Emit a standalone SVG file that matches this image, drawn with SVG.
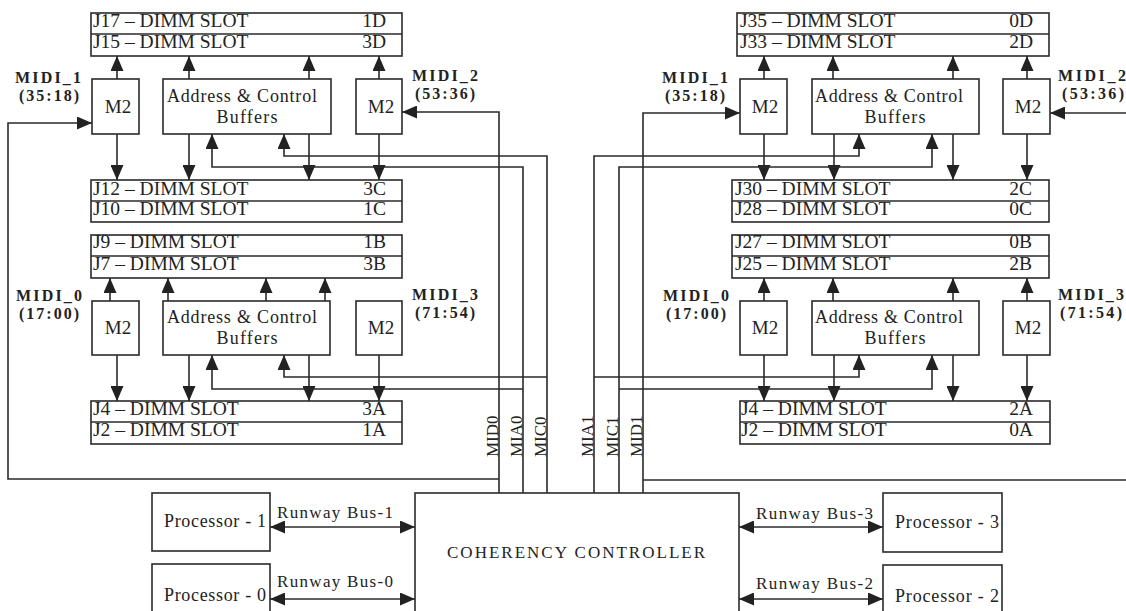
<svg xmlns="http://www.w3.org/2000/svg" width="1126" height="611" viewBox="0 0 1126 611">
<defs>
<marker id="ah" markerUnits="userSpaceOnUse" markerWidth="15" markerHeight="13" refX="15" refY="6.5" orient="auto-start-reverse" viewBox="0 0 15 13">
<path d="M0,0 L15,6.5 L0,13 z" fill="#222"/>
</marker>
<style>
.bx{fill:#fff;stroke:#2a2a2a;stroke-width:1.6}
.ln{fill:none;stroke:#2a2a2a;stroke-width:1.6}
.ar{fill:none;stroke:#2a2a2a;stroke-width:1.6;marker-end:url(#ah)}
.ar2{fill:none;stroke:#2a2a2a;stroke-width:1.6;marker-start:url(#ah);marker-end:url(#ah)}
.t{font-family:"Liberation Serif","Times New Roman",serif;fill:#222}
.sl{font-size:19.5px}
.m2{font-size:19px;text-anchor:middle}
.ac{font-size:18px;text-anchor:middle}
.lb{font-size:16px;font-weight:bold;text-anchor:middle}
.rt{font-size:17px}
.pr{font-size:18px}
</style>
</defs>
<rect width="1126" height="611" fill="#fff"/>

<!-- LEFT CLUSTER -->
<g id="dimm-left-D">
<rect class="bx" x="91" y="13" width="311" height="43"/>
<line class="ln" x1="91" y1="34" x2="402" y2="34"/>
<text class="t sl" x="93" y="27">J17 – DIMM SLOT</text>
<text class="t sl" x="386" y="27" text-anchor="end">1D</text>
<text class="t sl" x="93" y="48">J15 – DIMM SLOT</text>
<text class="t sl" x="386" y="48" text-anchor="end">3D</text>
</g>
<g id="m2-left-1">
<rect class="bx" x="92" y="79" width="47" height="55"/>
<text class="t m2" x="118" y="113">M2</text>
</g>
<g id="acb-left-top">
<rect class="bx" x="163" y="79" width="168" height="55"/>
<text class="t ac" x="242" y="102" textLength="150" lengthAdjust="spacing">Address &amp; Control</text>
<text class="t ac" x="247" y="123" textLength="61" lengthAdjust="spacing">Buffers</text>
</g>
<g id="m2-left-2">
<rect class="bx" x="356" y="79" width="46" height="55"/>
<text class="t m2" x="381" y="113">M2</text>
</g>
<g id="dimm-left-C">
<rect class="bx" x="91" y="180" width="311" height="42"/>
<line class="ln" x1="91" y1="201" x2="402" y2="201"/>
<text class="t sl" x="93" y="195">J12 – DIMM SLOT</text>
<text class="t sl" x="386" y="195" text-anchor="end">3C</text>
<text class="t sl" x="93" y="215">J10 – DIMM SLOT</text>
<text class="t sl" x="386" y="215" text-anchor="end">1C</text>
</g>
<g id="dimm-left-B">
<rect class="bx" x="91" y="235" width="311" height="43"/>
<line class="ln" x1="91" y1="256" x2="402" y2="256"/>
<text class="t sl" x="93" y="248">J9 – DIMM SLOT</text>
<text class="t sl" x="386" y="248" text-anchor="end">1B</text>
<text class="t sl" x="93" y="270">J7 – DIMM SLOT</text>
<text class="t sl" x="386" y="270" text-anchor="end">3B</text>
</g>
<g id="m2-left-0">
<rect class="bx" x="92" y="301" width="47" height="54"/>
<text class="t m2" x="118" y="334">M2</text>
</g>
<g id="acb-left-bottom">
<rect class="bx" x="163" y="301" width="167" height="54"/>
<text class="t ac" x="242" y="323" textLength="150" lengthAdjust="spacing">Address &amp; Control</text>
<text class="t ac" x="247" y="344" textLength="61" lengthAdjust="spacing">Buffers</text>
</g>
<g id="m2-left-3">
<rect class="bx" x="356" y="301" width="46" height="54"/>
<text class="t m2" x="381" y="334">M2</text>
</g>
<g id="dimm-left-A">
<rect class="bx" x="91" y="401" width="311" height="43"/>
<line class="ln" x1="91" y1="422" x2="402" y2="422"/>
<text class="t sl" x="93" y="415">J4 – DIMM SLOT</text>
<text class="t sl" x="386" y="415" text-anchor="end">3A</text>
<text class="t sl" x="93" y="436">J2 – DIMM SLOT</text>
<text class="t sl" x="386" y="436" text-anchor="end">1A</text>
</g>
<g id="labels-left">
<text class="t lb" x="48" y="83" textLength="66" lengthAdjust="spacing">MIDI_1</text>
<text class="t lb" x="49" y="101" textLength="60" lengthAdjust="spacing">(35:18)</text>
<text class="t lb" x="445" y="81" textLength="66" lengthAdjust="spacing">MIDI_2</text>
<text class="t lb" x="445" y="99" textLength="60" lengthAdjust="spacing">(53:36)</text>
<text class="t lb" x="49" y="301" textLength="66" lengthAdjust="spacing">MIDI_0</text>
<text class="t lb" x="49" y="319" textLength="60" lengthAdjust="spacing">(17:00)</text>
<text class="t lb" x="445" y="300" textLength="66" lengthAdjust="spacing">MIDI_3</text>
<text class="t lb" x="445" y="318" textLength="60" lengthAdjust="spacing">(71:54)</text>
</g>

<!-- RIGHT CLUSTER -->
<g id="dimm-right-D">
<rect class="bx" x="737" y="13" width="312" height="43"/>
<line class="ln" x1="737" y1="34" x2="1049" y2="34"/>
<text class="t sl" x="740" y="27">J35 – DIMM SLOT</text>
<text class="t sl" x="1033" y="27" text-anchor="end">0D</text>
<text class="t sl" x="740" y="48">J33 – DIMM SLOT</text>
<text class="t sl" x="1033" y="48" text-anchor="end">2D</text>
</g>
<g id="m2-right-1">
<rect class="bx" x="740" y="79" width="47" height="55"/>
<text class="t m2" x="765" y="113">M2</text>
</g>
<g id="acb-right-top">
<rect class="bx" x="812" y="79" width="167" height="55"/>
<text class="t ac" x="889" y="102" textLength="148" lengthAdjust="spacing">Address &amp; Control</text>
<text class="t ac" x="895" y="123" textLength="61" lengthAdjust="spacing">Buffers</text>
</g>
<g id="m2-right-2">
<rect class="bx" x="1003" y="79" width="47" height="55"/>
<text class="t m2" x="1028" y="113">M2</text>
</g>
<g id="dimm-right-C">
<rect class="bx" x="732" y="180" width="317" height="42"/>
<line class="ln" x1="732" y1="201" x2="1049" y2="201"/>
<text class="t sl" x="735" y="195">J30 – DIMM SLOT</text>
<text class="t sl" x="1032" y="195" text-anchor="end">2C</text>
<text class="t sl" x="735" y="215">J28 – DIMM SLOT</text>
<text class="t sl" x="1032" y="215" text-anchor="end">0C</text>
</g>
<g id="dimm-right-B">
<rect class="bx" x="732" y="235" width="317" height="43"/>
<line class="ln" x1="732" y1="256" x2="1049" y2="256"/>
<text class="t sl" x="735" y="248">J27 – DIMM SLOT</text>
<text class="t sl" x="1032" y="248" text-anchor="end">0B</text>
<text class="t sl" x="735" y="270">J25 – DIMM SLOT</text>
<text class="t sl" x="1032" y="270" text-anchor="end">2B</text>
</g>
<g id="m2-right-0">
<rect class="bx" x="740" y="301" width="47" height="54"/>
<text class="t m2" x="765" y="334">M2</text>
</g>
<g id="acb-right-bottom">
<rect class="bx" x="812" y="301" width="167" height="54"/>
<text class="t ac" x="889" y="323" textLength="148" lengthAdjust="spacing">Address &amp; Control</text>
<text class="t ac" x="895" y="344" textLength="61" lengthAdjust="spacing">Buffers</text>
</g>
<g id="m2-right-3">
<rect class="bx" x="1003" y="301" width="47" height="54"/>
<text class="t m2" x="1028" y="334">M2</text>
</g>
<g id="dimm-right-A">
<rect class="bx" x="740" y="401" width="310" height="43"/>
<line class="ln" x1="740" y1="422" x2="1050" y2="422"/>
<text class="t sl" x="741" y="415">J4 – DIMM SLOT</text>
<text class="t sl" x="1033" y="415" text-anchor="end">2A</text>
<text class="t sl" x="741" y="436">J2 – DIMM SLOT</text>
<text class="t sl" x="1033" y="436" text-anchor="end">0A</text>
</g>
<g id="labels-right">
<text class="t lb" x="695" y="83" textLength="66" lengthAdjust="spacing">MIDI_1</text>
<text class="t lb" x="695" y="101" textLength="60" lengthAdjust="spacing">(35:18)</text>
<text class="t lb" x="1092" y="81" textLength="68" lengthAdjust="spacing">MIDI_2</text>
<text class="t lb" x="1093" y="99" textLength="62" lengthAdjust="spacing">(53:36)</text>
<text class="t lb" x="696" y="301" textLength="66" lengthAdjust="spacing">MIDI_0</text>
<text class="t lb" x="696" y="319" textLength="60" lengthAdjust="spacing">(17:00)</text>
<text class="t lb" x="1091" y="300" textLength="66" lengthAdjust="spacing">MIDI_3</text>
<text class="t lb" x="1091" y="318" textLength="62" lengthAdjust="spacing">(71:54)</text>
</g>

<!-- BOTTOM -->
<g id="controller">
<rect class="bx" x="415" y="493" width="324" height="130"/>
<text class="t" x="447" y="558" font-size="17" textLength="258" lengthAdjust="spacing">COHERENCY CONTROLLER</text>
</g>
<g id="proc-1">
<rect class="bx" x="152" y="493" width="118" height="58"/>
<text class="t pr" x="164" y="527" textLength="102" lengthAdjust="spacing">Processor - 1</text>
</g>
<g id="proc-0">
<rect class="bx" x="152" y="564" width="118" height="60"/>
<text class="t pr" x="164" y="601" textLength="102" lengthAdjust="spacing">Processor - 0</text>
</g>
<g id="proc-3">
<rect class="bx" x="883" y="493" width="119" height="59"/>
<text class="t pr" x="895" y="528" textLength="104" lengthAdjust="spacing">Processor - 3</text>
</g>
<g id="proc-2">
<rect class="bx" x="883" y="565" width="119" height="60"/>
<text class="t pr" x="895" y="602" textLength="104" lengthAdjust="spacing">Processor - 2</text>
</g>

<g id="connectors">
<!-- left top cluster arrows -->
<path class="ar" d="M117,79 V56"/>
<path class="ar" d="M189,79 V56"/>
<path class="ar" d="M309,79 V56"/>
<path class="ar" d="M379,79 V56"/>
<path class="ar" d="M117,134 V180"/>
<path class="ar" d="M189,134 V180"/>
<path class="ar" d="M309,134 V180"/>
<path class="ar" d="M379,134 V180"/>
<path class="ar" d="M547,493 V156 H284 V134"/>
<path class="ar" d="M523,493 V167 H212 V134"/>
<path class="ar" d="M499,479 H8 V123 H92"/>
<path class="ar" d="M499,493 V112 H402"/>
<!-- left bottom cluster -->
<path class="ar" d="M110,301 V278"/>
<path class="ar" d="M168,301 V278"/>
<path class="ar" d="M266,301 V278"/>
<path class="ar" d="M325,301 V278"/>
<path class="ar" d="M117,355 V401"/>
<path class="ar" d="M189,355 V401"/>
<path class="ar" d="M309,355 V401"/>
<path class="ar" d="M379,355 V401"/>
<path class="ar" d="M547,377 H284 V355"/>
<path class="ar" d="M523,389 H212 V355"/>
<!-- right top cluster -->
<path class="ar" d="M764,79 V56"/>
<path class="ar" d="M833,79 V56"/>
<path class="ar" d="M953,79 V56"/>
<path class="ar" d="M1027,79 V56"/>
<path class="ar" d="M764,134 V180"/>
<path class="ar" d="M834,134 V180"/>
<path class="ar" d="M953,134 V180"/>
<path class="ar" d="M1027,134 V180"/>
<path class="ar" d="M594,493 V156 H859 V134"/>
<path class="ar" d="M619,493 V167 H932 V134"/>
<path class="ar" d="M643,493 V113 H740"/>
<path class="ln" d="M643,480 H1126"/>
<path class="ar" d="M1126,113 H1050"/>
<!-- right bottom cluster -->
<path class="ar" d="M764,301 V278"/>
<path class="ar" d="M833,301 V278"/>
<path class="ar" d="M953,301 V278"/>
<path class="ar" d="M1027,301 V278"/>
<path class="ar" d="M764,355 V401"/>
<path class="ar" d="M834,355 V401"/>
<path class="ar" d="M953,355 V401"/>
<path class="ar" d="M1027,355 V401"/>
<path class="ar" d="M594,377 H859 V355"/>
<path class="ar" d="M619,389 H932 V355"/>
<!-- runway buses -->
<path class="ar2" d="M270,527 H415"/>
<path class="ar2" d="M270,599 H415"/>
<path class="ar2" d="M739,527 H883"/>
<path class="ar2" d="M739,599 H883"/>
<text class="t rt" x="277" y="518" textLength="116" lengthAdjust="spacing">Runway Bus-1</text>
<text class="t rt" x="277" y="587" textLength="116" lengthAdjust="spacing">Runway Bus-0</text>
<text class="t rt" x="756" y="519" textLength="117" lengthAdjust="spacing">Runway Bus-3</text>
<text class="t rt" x="756" y="589" textLength="117" lengthAdjust="spacing">Runway Bus-2</text>
<!-- bus labels -->
<text class="t rt" transform="translate(497.5,457) rotate(-90)">MID0</text>
<text class="t rt" transform="translate(521.5,457) rotate(-90)">MIA0</text>
<text class="t rt" transform="translate(545.5,457) rotate(-90)">MIC0</text>
<text class="t rt" transform="translate(592.5,457) rotate(-90)">MIA1</text>
<text class="t rt" transform="translate(617.5,457) rotate(-90)">MIC1</text>
<text class="t rt" transform="translate(641.5,457) rotate(-90)">MID1</text>
</g>
</svg>
